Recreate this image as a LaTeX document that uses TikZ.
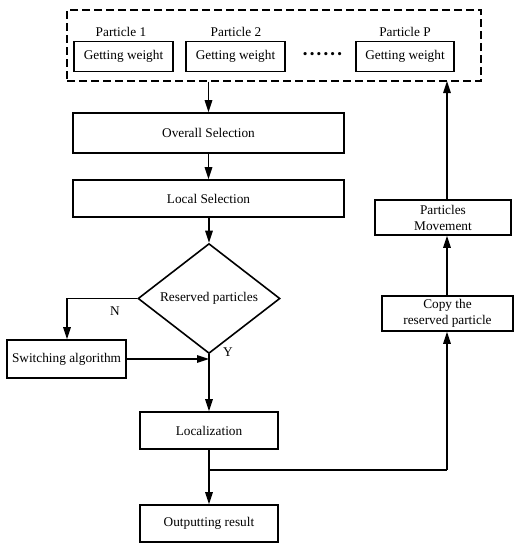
\documentclass[tikz,border=0pt]{standalone}
\usepackage{fontspec}
\setmainfont{Liberation Serif}
\usetikzlibrary{shapes.geometric,arrows.meta}
\begin{document}
\begin{tikzpicture}[x=1pt,y=-1pt,
  every node/.style={font=\fontsize{13.3}{16}\selectfont, inner sep=1pt},
  box/.style={draw, line width=1.6pt, rectangle, inner sep=0pt, align=center},
  lbl/.style={inner sep=0pt},
  conn/.style={line width=1.6pt, -{Triangle[length=12pt,width=7.5pt]}},
  plain/.style={line width=1.6pt}]
\useasboundingbox (0,0) rectangle (523,550);
% dashed container
\node[draw, dash pattern=on 8pt off 4pt, line width=1.6pt, minimum width=414pt, minimum height=71pt, inner sep=0pt] (grp) at (274,45.5) {};
\node[box, minimum width=99pt, minimum height=30pt] (gw1) at (123.5,56.5) {Getting weight};
\node[box, minimum width=99pt, minimum height=30pt] (gw2) at (235.5,56.5) {Getting weight};
\node[box, minimum width=98pt, minimum height=30pt] (gw3) at (405,56.5) {Getting weight};
\node[lbl] (p1) at (121,32) {Particle 1};
\node[lbl] (p2) at (236,32) {Particle 2};
\node[lbl] (pp) at (405,32) {Particle P};
\node[lbl] (dots) at (322.5,56) {\textbullet\,\textbullet\,\textbullet\,\textbullet\,\textbullet\,\textbullet};
% main column
\node[box, minimum width=271pt, minimum height=40pt] (overall) at (208.5,133) {Overall Selection};
\node[box, minimum width=271pt, minimum height=37pt] (local) at (208.5,198.5) {Local Selection};
\node[draw, diamond, line width=1.6pt, minimum width=142pt, minimum height=85pt, inner sep=0pt] (dec) at (209,298.5) {Reserved particles};
\node[box, minimum width=119pt, minimum height=38pt] (switch) at (66.5,359) {Switching algorithm};
\node[box, minimum width=138pt, minimum height=37pt] (loc) at (209,430.5) {Localization};
\node[box, minimum width=138pt, minimum height=37pt] (out) at (209,523.5) {Outputting result};
% right column
\node[box, minimum width=131pt, minimum height=35pt] (copy) at (447.5,313.5) {Copy the\\reserved particle};
\node[box, minimum width=136pt, minimum height=35pt] (move) at (443,217.5) {Particles\\Movement};
% labels
\node[lbl] (nlab) at (115,311) {N};
\node[lbl] (ylab) at (228,352) {Y};
% coordinates
\coordinate (nturn) at (67,298.5);
\coordinate (merge) at (209,359);
\coordinate (split) at (209,470);
\coordinate (sturn) at (447,470);
\coordinate (gtop) at (447,81);
% connectors
\draw[conn] (grp.south -| overall.north) -- (overall.north);
\draw[conn] (overall) -- (local);
\draw[conn] (local.south -| dec.north) -- (dec.north);
\draw[plain] (dec.south) -- (merge);
\draw[conn] (merge) -- (loc.north);
\draw[conn] (dec.west) -- (nturn) -- (switch.north -| nturn);
\draw[conn] (switch.east) -- (merge);
\draw[conn] (loc) -- (out);
\draw[plain] (split) -- (sturn);
\draw[conn] (sturn) -- (sturn |- copy.south);
\draw[conn] (copy.north -| sturn) -- (sturn |- move.south);
\draw[conn] (sturn |- move.north) -- (gtop);
\end{tikzpicture}
\end{document}
